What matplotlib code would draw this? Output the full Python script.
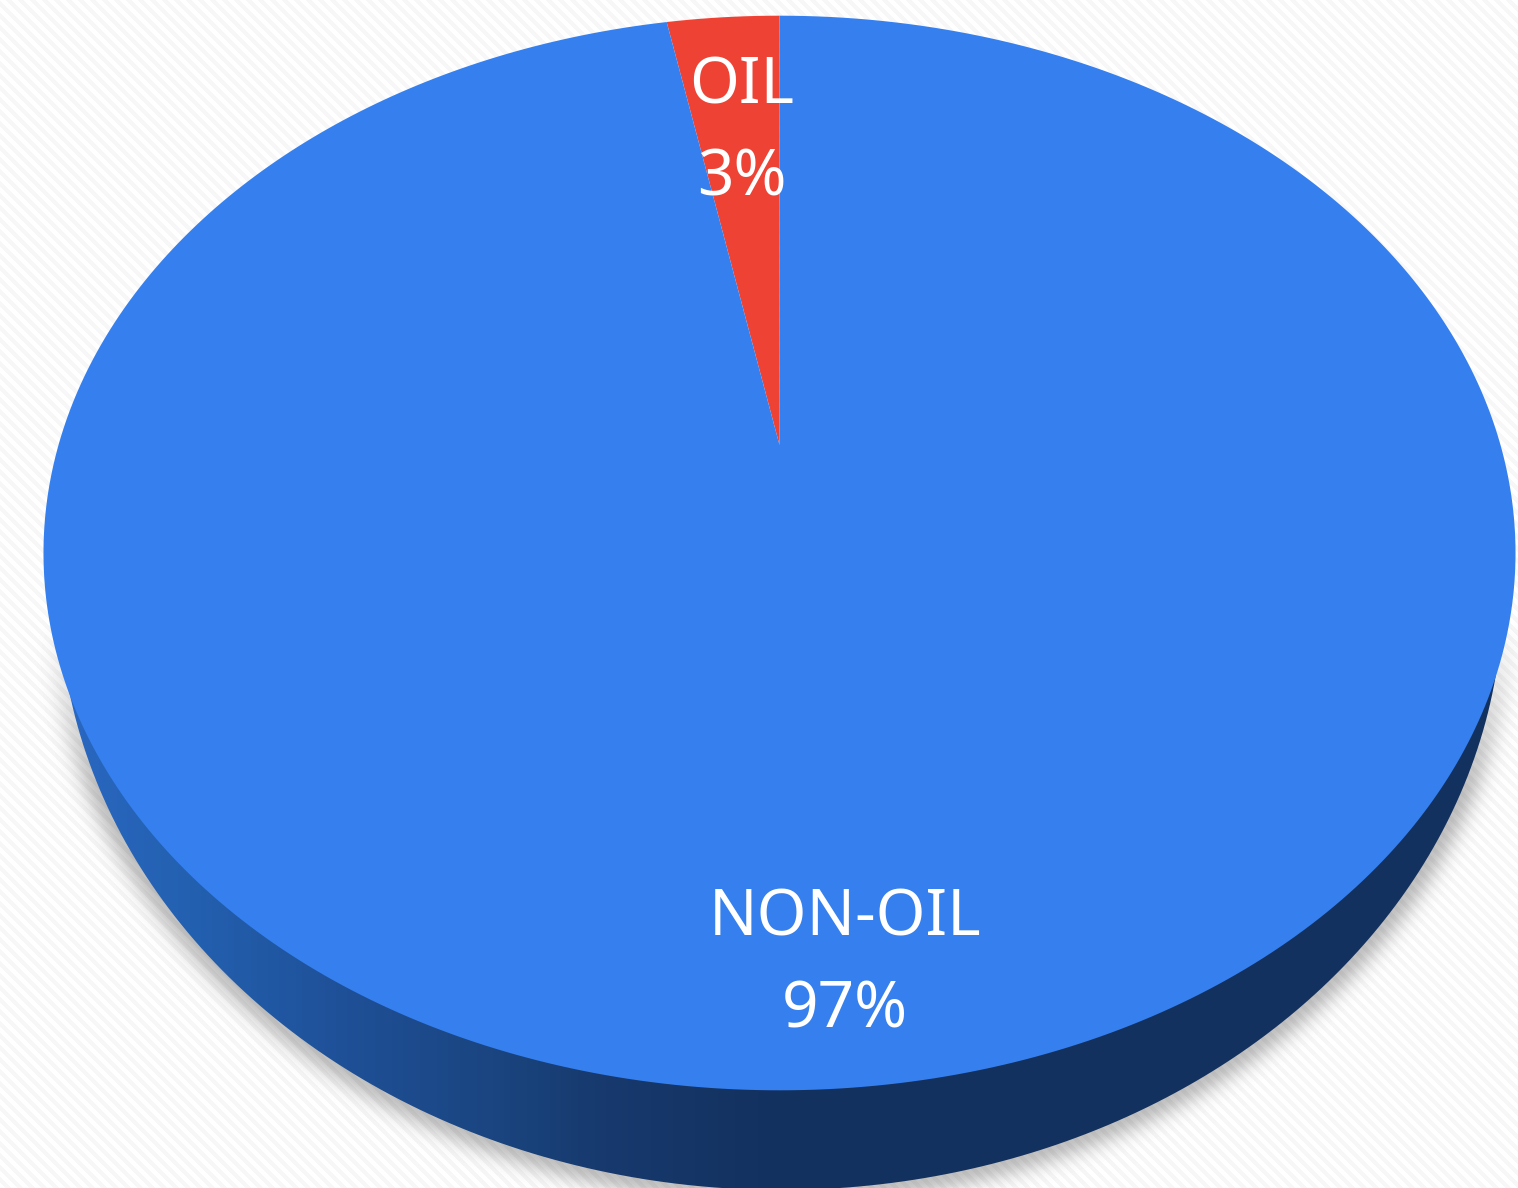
import numpy as np
import matplotlib
matplotlib.use('Agg')
from matplotlib import pyplot as plt
from matplotlib.colors import LinearSegmentedColormap
from matplotlib.patches import Polygon
from matplotlib.path import Path

labels = ['OIL', 'NON-OIL']
shares = [3, 97]
colors = ['#EE4235', '#3580EE']

W, H = 1518, 1188

# top face: where the pie centre and the rim land in the picture
apex_x, apex_y = 779.5, 445
persp = 0.201
scale_x, scale_y = 721, 515.6

# lower rim of the side wall
side_cx, side_cy = 781, 591
side_a, side_b = 722, 599


def tilt(xy):
    # unit circle -> the leaning ellipse of the top face
    u, v = xy[:, 0], xy[:, 1]
    d = 1 + persp * v
    return np.column_stack([apex_x + scale_x * u / d, apex_y - scale_y * v / d])


def outline(path):
    # flatten the slice outline, the arcs are beziers
    pts = []
    for bez, code in path.iter_bezier():
        if code != Path.MOVETO:
            pts.append(bez(np.linspace(0, 1, 30)))
    return np.vstack(pts)


fig = plt.figure(figsize=(W / 100, H / 100), dpi=100)
ax = fig.add_axes([0, 0, 1, 1])

wedges, _ = ax.pie(shares, colors=colors, startangle=90, counterclock=True)

# striped paper plus the soft shadow under the pie
yy, xx = np.mgrid[0:H, 0:W]
paper = np.where((xx - yy) % 12 < 6, 1.0, 0.965)
f = np.hypot((xx - side_cx) / side_a, (yy - side_cy) / side_b)
dist = np.hypot(xx - side_cx, yy - side_cy) * np.clip(f - 1, 0, None) / f
fade = np.clip((yy - 620) / 170, 0, 1)
paper = paper * (1 - 0.24 * fade * np.exp(-(dist / 17) ** 2))
ax.imshow(paper, cmap='gray', vmin=0, vmax=1, extent=(0, W, H, 0), zorder=0, interpolation='bilinear')

# side wall, lighter on the left and dark from the middle on
t = np.linspace(0, 2 * np.pi, 400)
wall = Polygon(np.column_stack([side_cx + side_a * np.cos(t), side_cy + side_b * np.sin(t)]),
               transform=ax.transData, facecolor='none', edgecolor='none')
ax.add_patch(wall)
wall_cmap = LinearSegmentedColormap.from_list('wall', [
    (0.0, '#2A68C2'), (0.09, '#2360B0'), (0.21, '#1E4E94'),
    (0.3, '#1A4580'), (0.38, '#17396D'), (0.5, '#13315F'), (1.0, '#13325F')])
ramp = np.linspace(0, 1, 1024)[None, :]
grad = ax.imshow(ramp, cmap=wall_cmap, extent=(60, 1500, H, 500), aspect='auto', zorder=1)
grad.set_clip_path(wall)

# top face: the slices from pie, pushed through the tilt
for w in wedges:
    pts = outline(w.get_patch_transform().transform_path(w.get_path()))
    ax.add_patch(Polygon(tilt(pts), closed=True, facecolor=w.get_facecolor(), edgecolor='none', zorder=2))
    w.set_visible(False)

label_pos = [(742, 86, 178), (845, 918, 1010)]
for name, share, (x, y1, y2) in zip(labels, shares, label_pos):
    ax.text(x, y1, name, color='white', fontsize=46, fontweight='bold', family='Noto Sans',
            ha='center', va='center', zorder=3)
    ax.text(x, y2, f'{share}%', color='white', fontsize=46, fontweight='bold', family='Noto Sans',
            ha='center', va='center', zorder=3)

ax.set_aspect('auto')
ax.set_xlim(0, W)
ax.set_ylim(H, 0)
ax.axis('off')
fig.savefig('out.png', dpi=100)
